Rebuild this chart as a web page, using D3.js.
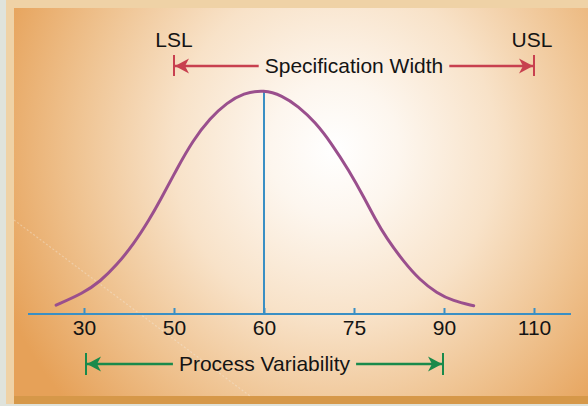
<!DOCTYPE html>
<html>
<head>
<meta charset="utf-8">
<script src="https://cdn.jsdelivr.net/npm/d3@7"></script>
<style>
  html, body { margin: 0; padding: 0; background: #dfe3dc; }
  svg { display: block; }
  text { font-family: "Liberation Sans", Arial, sans-serif; fill: #141414; }
</style>
</head>
<body>
<svg id="chart" width="588" height="406"></svg>
<script>
// ---- data ----
const tickLabels = ["30", "50", "60", "75", "90", "110"];
// curve: x in tick-index units, y as % of peak height
const curveX = [-0.31, -0.01, 0.18, 0.36, 0.55, 0.73, 0.84, 1.03, 1.21, 1.40, 1.59, 1.77, 2.00,
                2.20, 2.38, 2.57, 2.75, 2.94, 3.12, 3.23, 3.36, 3.55, 3.73, 3.92, 4.10, 4.33];
const curveY = [4.0, 9.3, 14.6, 21.8, 31.2, 42.6, 50.4, 65.0, 77.8, 87.8, 94.8, 99.0, 100.6,
                98.0, 93.2, 86.0, 76.5, 64.6, 51.6, 43.0, 34.0, 23.6, 15.3, 9.4, 5.9, 3.7];
const meanLabel = "60";
const specLabels = ["50", "110"];          // LSL, USL
const specNames = ["LSL", "USL"];
const processLabels = ["30", "90"];        // process variability limits
const specText = "Specification Width";
const processText = "Process Variability";

// ---- setup ----
const W = 588, H = 406;
const svg = d3.select("#chart");
const defs = svg.append("defs");

const grad = defs.append("radialGradient")
  .attr("id", "bg").attr("gradientUnits", "userSpaceOnUse")
  .attr("cx", 335).attr("cy", 150).attr("r", 360)
  .attr("gradientTransform", "translate(335,150) scale(1,1.05) translate(-335,-150)");
[[0, "#ffffff"], [0.18, "#fdf6ee"], [0.45, "#f8e2c8"], [0.72, "#efc391"], [1, "#e6a158"]]
  .forEach(([o, c]) => grad.append("stop").attr("offset", o).attr("stop-color", c));

// frame
svg.append("rect").attr("x", 0).attr("y", 0).attr("width", W).attr("height", H).attr("fill", "#dfe3dc");
svg.append("rect").attr("x", 6).attr("y", 0).attr("width", W - 6).attr("height", 404).attr("fill", "#efd2a6");
svg.append("rect").attr("x", 14).attr("y", 8).attr("width", W - 14).attr("height", 388).attr("fill", "url(#bg)");
svg.append("rect").attr("x", 14).attr("y", 396).attr("width", W - 14).attr("height", 8).attr("fill", "#d69849");
// faint diagonal scan streak
svg.append("line").attr("x1", 14).attr("y1", 220).attr("x2", 250).attr("y2", 396)
  .attr("stroke", "#f4f1ec").attr("stroke-opacity", 0.35).attr("stroke-width", 1.2)
  .attr("stroke-dasharray", "2,2");

// ---- scales ----
const x = d3.scaleLinear().domain([0, tickLabels.length - 1]).range([84, 534]);
const y = d3.scaleLinear().domain([0, 100]).range([314, 91]);
const idx = l => tickLabels.indexOf(l);

const blue = "#3a8fc4", purple = "#9a4f8d", red = "#c8404f", green = "#198a4b";
const fs = 21;

// ---- axis ----
svg.append("line").attr("x1", x(0) - 56).attr("x2", x(tickLabels.length - 1) + 37)
  .attr("y1", y(0)).attr("y2", y(0)).attr("stroke", blue).attr("stroke-width", 2);

const axis = d3.axisBottom(x)
  .tickValues(d3.range(tickLabels.length))
  .tickFormat(i => tickLabels[i])
  .tickSizeInner(-6).tickSizeOuter(0).tickPadding(6);
const gAxis = svg.append("g").attr("transform", `translate(0,${y(0)})`).call(axis);
gAxis.select(".domain").remove();
gAxis.selectAll(".tick line").attr("stroke", blue).attr("stroke-width", 2);
gAxis.selectAll(".tick text").attr("font-size", fs).attr("font-family", "Liberation Sans, Arial, sans-serif")
  .attr("fill", "#141414");

// ---- mean line ----
svg.append("line").attr("x1", x(idx(meanLabel))).attr("x2", x(idx(meanLabel)))
  .attr("y1", y(100)).attr("y2", y(0)).attr("stroke", blue).attr("stroke-width", 2);

// ---- curve ----
const pts = curveX.map((v, i) => [v, curveY[i]]);
svg.append("path").datum(pts)
  .attr("d", d3.line().x(d => x(d[0])).y(d => y(d[1])).curve(d3.curveBasis))
  .attr("fill", "none").attr("stroke", purple).attr("stroke-width", 3).attr("stroke-linecap", "round");

// ---- dimension arrows ----
function arrowHead(g, tipX, yy, dir, color) {
  const L = 14, hw = 7.5, notch = 4;
  g.append("path")
    .attr("d", `M${tipX},${yy} L${tipX + dir * L},${yy - hw} L${tipX + dir * (L - notch)},${yy} L${tipX + dir * L},${yy + hw} Z`)
    .attr("fill", color);
}
function dimension(x1, x2, yy, label, color, barH) {
  const g = svg.append("g");
  const cx = (x1 + x2) / 2;
  const t = g.append("text").attr("x", cx).attr("y", yy).attr("dy", "0.35em")
    .attr("text-anchor", "middle").attr("font-size", fs).text(label);
  const tw = t.node().getComputedTextLength();
  const gap = 6;
  g.append("line").attr("x1", x1 + 1).attr("x2", cx - tw / 2 - gap).attr("y1", yy).attr("y2", yy)
    .attr("stroke", color).attr("stroke-width", 2.5);
  g.append("line").attr("x1", cx + tw / 2 + gap).attr("x2", x2 - 1).attr("y1", yy).attr("y2", yy)
    .attr("stroke", color).attr("stroke-width", 2.5);
  arrowHead(g, x1 + 1, yy, 1, color);
  arrowHead(g, x2 - 1, yy, -1, color);
  [x1, x2].forEach(bx => g.append("line").attr("x1", bx).attr("x2", bx)
    .attr("y1", yy - barH[0]).attr("y2", yy + barH[1]).attr("stroke", color).attr("stroke-width", 2));
}

const lsl = x(idx(specLabels[0])), usl = x(idx(specLabels[1]));
dimension(lsl, usl, 66, specText, red, [11, 10]);
specNames.forEach((n, i) => {
  svg.append("text").attr("x", x(idx(specLabels[i])) - (i === 1 ? 2 : 0)).attr("y", 47)
    .attr("text-anchor", "middle").attr("font-size", fs).text(n);
});

dimension(x(idx(processLabels[0])) + 2, x(idx(processLabels[1])) - 1, 364, processText, green, [11, 11]);
</script>
</body>
</html>
